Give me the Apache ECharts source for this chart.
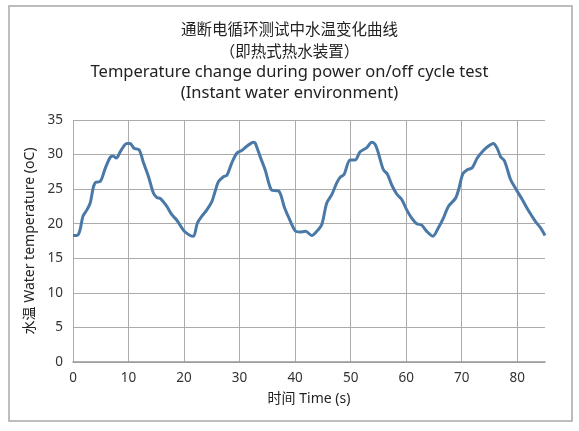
<!DOCTYPE html>
<html>
<head>
<meta charset="utf-8">
<script src="https://cdn.jsdelivr.net/npm/echarts@6/dist/echarts.min.js"></script>
<style>
  html, body { margin: 0; padding: 0; background: #fff; }
  #chart { width: 579px; height: 431px; }
</style>
</head>
<body>
<div id="chart"></div>
<script>
// 读图得到的数据：时间 (s) 和 水温 (°C)
const TIME = [
  0, 0.7, 1.2, 1.8, 2.5, 3.1, 3.7, 4.1, 4.9, 5.8, 6.7, 7.2, 7.8, 8.5, 9.7, 10.3,
  11.0, 11.9, 12.7, 13.6, 14.5, 15.1, 15.8, 16.9, 17.8, 18.7, 19.6, 20.2, 21.1, 21.7,
  22.4, 23.2, 24.1, 25.0, 25.6, 26.2, 27.1, 27.7, 28.6, 29.5, 30.4, 31.3, 32.5, 32.8,
  33.7, 34.6, 35.7, 36.3, 37.1, 38.1, 38.9, 40.1, 40.8, 41.9, 43.0, 43.9, 44.8, 45.7,
  46.6, 47.5, 48.1, 48.8, 49.9, 50.8, 51.7, 52.9, 53.8, 54.4, 55.0, 55.9, 56.6, 57.4,
  58.3, 59.2, 60.1, 61.0, 61.9, 62.8, 63.7, 64.8, 65.8, 66.7, 67.6, 68.9, 69.5, 70.2,
  71.0, 71.9, 72.8, 73.7, 74.6, 75.7, 76.4, 77.0, 77.7, 78.8, 79.7, 80.9, 82.1, 83.3,
  84.2, 85.0
];
const TEMP = [
  18.3, 18.3, 18.9, 21.1, 22.0, 23.0, 25.4, 26.0, 26.1, 28.0, 29.6, 29.8, 29.5, 30.4, 31.6, 31.6,
  30.9, 30.7, 28.8, 26.8, 24.4, 23.8, 23.6, 22.5, 21.3, 20.5, 19.4, 18.8, 18.3, 18.2,
  20.1, 21.1, 22.0, 23.2, 24.7, 26.1, 26.8, 27.0, 28.8, 30.2, 30.6, 31.2, 31.8, 31.7,
  29.7, 27.8, 24.9, 24.8, 24.7, 22.3, 20.8, 18.9, 18.8, 18.9, 18.3, 18.9, 19.9, 23.0,
  24.2, 25.9, 26.7, 27.1, 29.2, 29.2, 30.4, 31.0, 31.8, 31.5, 30.2, 27.8, 27.2, 25.6,
  24.3, 23.5, 22.0, 20.8, 20.0, 19.8, 18.9, 18.2, 19.4, 20.8, 22.5, 23.7, 25.1, 27.2,
  27.8, 28.1, 29.5, 30.4, 31.1, 31.6, 30.9, 29.7, 29.1, 26.4, 25.1, 23.5, 21.8, 20.3,
  19.4, 18.3
];

const TITLES = [
  '通断电循环测试中水温变化曲线',
  '（即热式热水装置）',
  'Temperature change during power on/off cycle test',
  '(Instant water environment)'
];
const X_NAME = '时间 Time (s)';
const Y_NAME = '水温 Water temperature (oC)';

const FONT = "'Noto Sans', 'Noto Sans CJK SC', sans-serif";
const TEXT_COLOR = '#222';
const GRID_COLOR = '#ababab';
const LINE_COLOR = '#4a79a7';

// 每行标题的位置和字号
const TITLE_TOP = [23, 45, 64, 85];
const TITLE_SIZE = [15.5, 15.5, 16.5, 16.5];

let myChart = echarts.init(document.getElementById('chart'), null, { renderer: 'canvas' });

let option = {
  backgroundColor: '#fff',
  animation: false,
  title: TITLES.map((t, i) => ({
    text: t,
    left: 'center',
    top: TITLE_TOP[i],
    padding: 0,
    textStyle: {
      fontFamily: FONT,
      fontSize: TITLE_SIZE[i],
      fontWeight: 'normal',
      color: TEXT_COLOR
    }
  })),
  graphic: [{
    type: 'rect',
    shape: { x: 9, y: 6, width: 563, height: 415 },
    style: { fill: 'none', stroke: '#a8a8a8', lineWidth: 1.5 },
    z: -1
  }],
  grid: {
    left: 73,
    right: 34,
    top: 120,
    bottom: 69
  },
  xAxis: {
    type: 'value',
    min: 0,
    max: 85,
    interval: 10,
    name: X_NAME,
    nameLocation: 'middle',
    nameGap: 30,
    nameTextStyle: { fontFamily: FONT, fontSize: 14, color: TEXT_COLOR },
    axisLine: { show: true, lineStyle: { color: '#999', width: 1.5 } },
    axisTick: { show: false },
    axisLabel: {
      margin: 9,
      fontFamily: FONT,
      fontSize: 13.5,
      color: '#333',
      showMaxLabel: false,
      formatter: function(v) {
        return v % 10 === 0 ? String(v) : '';
      }
    },
    splitLine: {
      show: true,
      showMaxLine: false,
      lineStyle: { color: GRID_COLOR, width: 1 }
    }
  },
  yAxis: {
    type: 'value',
    min: 0,
    max: 35,
    interval: 5,
    name: Y_NAME,
    nameLocation: 'middle',
    nameGap: 32,
    nameTextStyle: { fontFamily: FONT, fontSize: 14, color: TEXT_COLOR },
    axisLine: { show: false },
    axisTick: { show: false },
    axisLabel: {
      margin: 10,
      fontFamily: FONT,
      fontSize: 13.5,
      color: '#333'
    },
    splitLine: {
      show: true,
      lineStyle: { color: GRID_COLOR, width: 1 }
    }
  },
  series: [{
    name: Y_NAME,
    type: 'line',
    data: TIME.map((t, i) => [t, TEMP[i]]),
    showSymbol: false,
    smooth: 0.3,
    lineStyle: { color: LINE_COLOR, width: 3 },
    itemStyle: { color: LINE_COLOR }
  }]
};

myChart.setOption(option);
</script>
</body>
</html>
